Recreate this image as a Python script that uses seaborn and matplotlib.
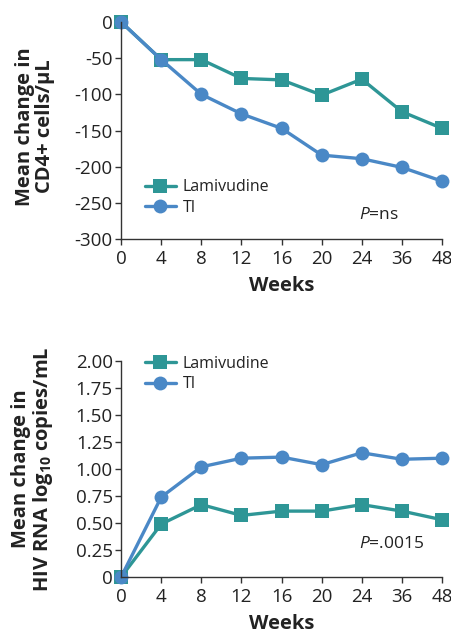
import matplotlib
matplotlib.use("Agg")
import matplotlib.pyplot as plt
import seaborn as sns
import pandas as pd

weeks = ["0", "4", "8", "12", "16", "20", "24", "36", "48"]
cd4_lamivudine = [0, -52, -52, -78, -80, -101, -79, -124, -147]
cd4_ti = [0, -52, -100, -127, -147, -184, -189, -201, -220]
rna_lamivudine = [0, 0.49, 0.67, 0.57, 0.61, 0.61, 0.67, 0.61, 0.53]
rna_ti = [0, 0.74, 1.02, 1.10, 1.11, 1.04, 1.15, 1.09, 1.10]
groups = ["Lamivudine", "TI"]
cd4_yticks = [0, -50, -100, -150, -200, -250, -300]
rna_yticks = [0, 0.25, 0.5, 0.75, 1.0, 1.25, 1.5, 1.75, 2.0]
rna_yticklabels = ["0", "0.25", "0.50", "0.75", "1.00", "1.25", "1.50", "1.75", "2.00"]

sns.set_theme(style="ticks")
plt.rcParams["font.family"] = ["Open Sans", "DejaVu Sans"]
plt.rcParams["mathtext.fontset"] = "custom"
plt.rcParams["mathtext.rm"] = "Open Sans"
plt.rcParams["mathtext.it"] = "Open Sans:italic"
plt.rcParams["mathtext.bf"] = "Open Sans:bold"
plt.rcParams["mathtext.default"] = "regular"

palette = {"Lamivudine": "#2E9696", "TI": "#4A88C6"}
markers = {"Lamivudine": "s", "TI": "o"}
txt = "#222222"

def make_df(a, b):
    rows = []
    for g, vals in zip(groups, [a, b]):
        for i, (w, v) in enumerate(zip(weeks, vals)):
            rows.append({"pos": i, "week": w, "value": v, "group": g})
    return pd.DataFrame(rows)

fig = plt.figure(figsize=(4.52, 6.33), dpi=100)
ax1 = fig.add_axes([0.268, 0.6224, 0.710, 0.3428])
ax2 = fig.add_axes([0.268, 0.0885, 0.710, 0.3412])

def style(ax, df, ylim, yticks, yticklabels, ylabel, ylabel_y, ptext, ptext_y, leg_anchor):
    sns.lineplot(data=df, x="pos", y="value", hue="group", style="group",
                 markers=markers, dashes=False, palette=palette, ax=ax,
                 linewidth=2.4, markersize=10, markeredgewidth=0, clip_on=False,
                 hue_order=groups, style_order=groups)
    ax.set_xlim(0, len(weeks) - 1)
    ax.set_ylim(*ylim)
    ax.set_xticks(range(len(weeks)))
    ax.set_xticklabels(weeks)
    ax.set_yticks(yticks)
    ax.set_yticklabels(yticklabels)
    ax.tick_params(axis="both", labelsize=13.5, colors="#333333", labelcolor=txt,
                   length=4, width=1)
    ax.tick_params(axis="x", pad=4)
    ax.tick_params(axis="y", pad=2)
    for s in ["top", "right"]:
        ax.spines[s].set_visible(False)
    for s in ["left", "bottom"]:
        ax.spines[s].set_color("#333333")
        ax.spines[s].set_linewidth(1)
    ax.set_xlabel("Weeks", fontsize=14.5, fontweight="bold", color=txt, labelpad=6)
    ax.set_ylabel(ylabel, fontsize=14.5, fontweight="bold", color=txt,
                  linespacing=1.0)
    ax.yaxis.set_label_coords(-0.205, ylabel_y)
    ax.text(0.74, ptext_y, ptext, transform=ax.transAxes, fontsize=12.5, color=txt,
            ha="left", va="center")
    leg = ax.legend(loc="upper left", bbox_to_anchor=leg_anchor, frameon=False,
                    fontsize=11.5, handlelength=1.9, handletextpad=0.45,
                    labelspacing=0.3, borderaxespad=0)
    for t in leg.get_texts():
        t.set_color(txt)

style(ax1, make_df(cd4_lamivudine, cd4_ti), (-300, 0), cd4_yticks,
      [str(v) for v in cd4_yticks], "Mean change in\nCD4+ cells/µL", 0.52,
      r"$\mathit{P}$=ns", 0.11, (0.055, 0.305))
style(ax2, make_df(rna_lamivudine, rna_ti), (0, 2.0), rna_yticks,
      rna_yticklabels, "Mean change in\nHIV RNA log$_{10}$ copies/mL", 0.5,
      r"$\mathit{P}$=.0015", 0.155, (0.055, 1.055))

fig.savefig("out.png", dpi=100)
